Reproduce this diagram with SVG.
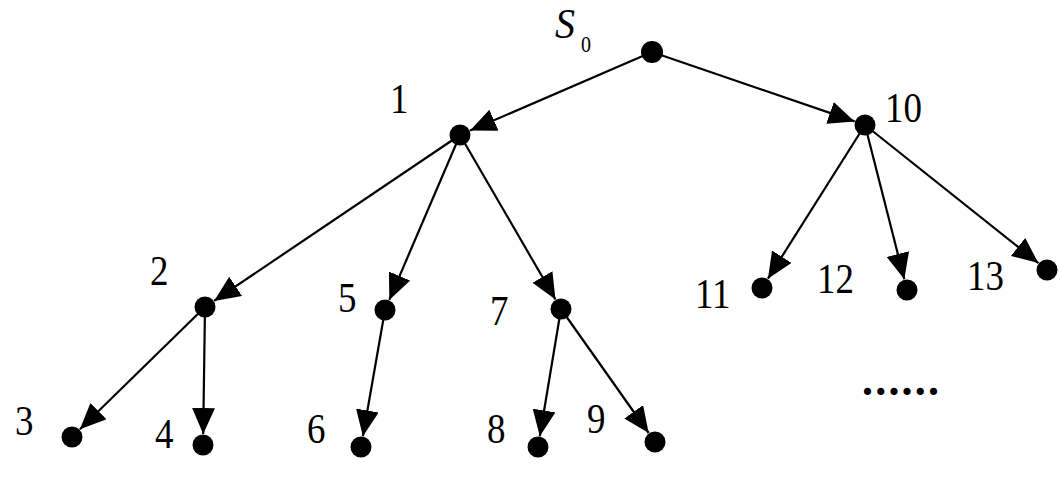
<svg xmlns="http://www.w3.org/2000/svg" width="1060" height="484" viewBox="0 0 1060 484">
<style>
.lbl{font-family:"Liberation Serif","Times New Roman",serif;font-size:37px;fill:#000}
.edge{stroke:#000;stroke-width:2.2;fill:none;marker-end:url(#ah)}
.dot{fill:#000}
</style>
<defs>
<marker id="ah" markerUnits="userSpaceOnUse" markerWidth="28" markerHeight="24" refX="26" refY="11.5" orient="auto" viewBox="0 0 28 24">
<path d="M0,0 L26,11.5 L0,23 z" fill="#000"/>
</marker>
</defs>
<rect width="1060" height="484" fill="#fff"/>
<g id="connectors">
<line class="edge" x1="652" y1="52" x2="470.1" y2="130.6"/>
<line class="edge" x1="652" y1="52" x2="854.6" y2="121.4"/>
<line class="edge" x1="460" y1="135" x2="214.1" y2="300.9"/>
<line class="edge" x1="460" y1="135" x2="389.3" y2="299.9"/>
<line class="edge" x1="460" y1="135" x2="555.5" y2="299.5"/>
<line class="edge" x1="865" y1="125" x2="767.9" y2="278.7"/>
<line class="edge" x1="865" y1="125" x2="904.3" y2="279.3"/>
<line class="edge" x1="865" y1="125" x2="1038.4" y2="263.1"/>
<line class="edge" x1="205" y1="307" x2="79.9" y2="429.3"/>
<line class="edge" x1="205" y1="307" x2="203.2" y2="434"/>
<line class="edge" x1="385" y1="310" x2="362.9" y2="436.2"/>
<line class="edge" x1="561" y1="309" x2="539.8" y2="436.2"/>
<line class="edge" x1="561" y1="309" x2="648.7" y2="433"/>
</g>
<g id="nS0"><circle class="dot" cx="652" cy="52" r="11"/><text class="lbl" transform="translate(555,38) scale(1,1.05)" font-style="italic" style="font-size:40px">S</text><text class="lbl" transform="translate(581,52) scale(1,1.15)" style="font-size:20px">0</text></g>
<g id="n1"><circle class="dot" cx="460" cy="135" r="10.5"/><text class="lbl" transform="translate(390,113) scale(1,1.12)">1</text></g>
<g id="n10"><circle class="dot" cx="865" cy="125" r="10.5"/><text class="lbl" transform="translate(885,122) scale(1,1.12)">10</text></g>
<g id="n2"><circle class="dot" cx="205" cy="307" r="10.5"/><text class="lbl" transform="translate(150,285) scale(1,1.12)">2</text></g>
<g id="n5"><circle class="dot" cx="385" cy="310" r="10.5"/><text class="lbl" transform="translate(338,312) scale(1,1.12)">5</text></g>
<g id="n7"><circle class="dot" cx="561" cy="309" r="10.5"/><text class="lbl" transform="translate(490,325) scale(1,1.12)">7</text></g>
<g id="n11"><circle class="dot" cx="762" cy="288" r="10.5"/><text class="lbl" transform="translate(695,308) scale(1,1.12)">11</text></g>
<g id="n12"><circle class="dot" cx="907" cy="290" r="10.5"/><text class="lbl" transform="translate(817,293) scale(1,1.12)">12</text></g>
<g id="n13"><circle class="dot" cx="1047" cy="270" r="10.5"/><text class="lbl" transform="translate(967,290) scale(1,1.12)">13</text></g>
<g id="n3"><circle class="dot" cx="72" cy="437" r="10.5"/><text class="lbl" transform="translate(15,435) scale(1,1.12)">3</text></g>
<g id="n4"><circle class="dot" cx="203" cy="445" r="10.5"/><text class="lbl" transform="translate(155,448) scale(1,1.12)">4</text></g>
<g id="n6"><circle class="dot" cx="361" cy="447" r="10.5"/><text class="lbl" transform="translate(307,443) scale(1,1.12)">6</text></g>
<g id="n8"><circle class="dot" cx="538" cy="447" r="10.5"/><text class="lbl" transform="translate(487,443) scale(1,1.12)">8</text></g>
<g id="n9"><circle class="dot" cx="655" cy="442" r="10.5"/><text class="lbl" transform="translate(587,433) scale(1,1.12)">9</text></g>
<text class="lbl" x="862" y="395" style="font-size:44px;font-weight:bold;letter-spacing:2.2px">......</text>
</svg>
